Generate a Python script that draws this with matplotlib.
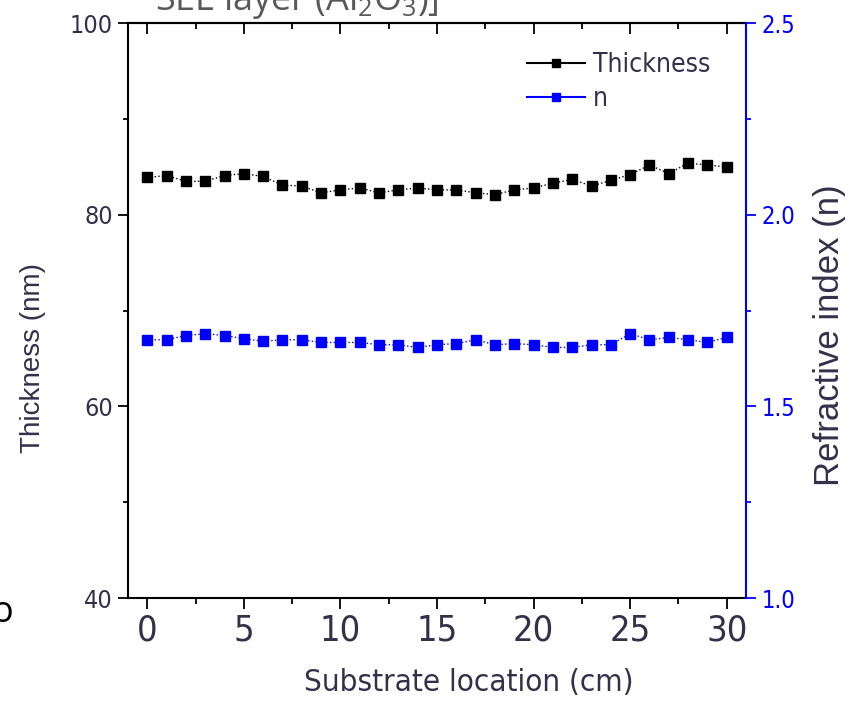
import numpy as np
import matplotlib
matplotlib.use("Agg")
import matplotlib.pyplot as plt
import matplotlib.ticker as ticker
from matplotlib.lines import Line2D
from matplotlib import font_manager

# ─────────────────────────────────────────────
#  Datos
# ─────────────────────────────────────────────
location = list(range(0, 31))
thickness = [83.9, 84.1, 83.5, 83.5, 84.1, 84.3, 84.0, 83.1, 83.0, 82.3,
             82.6, 82.8, 82.3, 82.6, 82.8, 82.6, 82.6, 82.3, 82.1, 82.6,
             82.8, 83.3, 83.7, 83.0, 83.6, 84.2, 85.2, 84.3, 85.4, 85.2,
             85.0]
n_index = [1.674, 1.674, 1.685, 1.690, 1.685, 1.677, 1.670, 1.674, 1.674, 1.667,
           1.667, 1.667, 1.661, 1.661, 1.654, 1.661, 1.664, 1.674, 1.661, 1.664,
           1.661, 1.654, 1.654, 1.661, 1.661, 1.690, 1.674, 1.680, 1.674, 1.667,
           1.680]

x_ticks = [0, 5, 10, 15, 20, 25, 30]
y_ticks = [40, 60, 80, 100]
n_ticks = [1.0, 1.5, 2.0, 2.5]

# fuente estrecha: la que haya instalada
fonts = font_manager.fontManager.ttflist
names = {f.name for f in fonts}
if "Liberation Sans Narrow" in names:
    NARROW = dict(family="Liberation Sans Narrow")
elif any(f.name == "DejaVu Sans" and f.stretch == "condensed" for f in fonts):
    NARROW = dict(family="DejaVu Sans", stretch="condensed")
else:
    NARROW = dict(family="Liberation Sans")
REG = "Liberation Sans" if "Liberation Sans" in names else "DejaVu Sans"

TXT = "#35304a"
BLUE = "#0000ff"

plt.rcParams.update({
    "font.family": REG,
    "mathtext.fontset": "custom",
    "mathtext.rm": "Open Sans",
})

fig = plt.figure(figsize=(8.53, 7.02), dpi=100)
ax = fig.add_axes([0.150, 0.148, 0.7246, 0.819])
ax2 = ax.twinx()

ax.plot(location, thickness, color="black", lw=1.0, ls=":",
        marker="s", ms=7.5, zorder=3)
ax2.plot(location, n_index, color=BLUE, lw=1.0, ls=":",
         marker="s", ms=7.5, mec=BLUE, mfc=BLUE, zorder=3)

ax.set_xlim(-1, 31)
ax.set_ylim(40, 100)
ax2.set_ylim(1.0, 2.5)

ax.set_xticks(x_ticks)
ax.xaxis.set_minor_locator(ticker.MultipleLocator(2.5))
ax.set_yticks(y_ticks)
ax.yaxis.set_minor_locator(ticker.MultipleLocator(10))
ax2.set_yticks(n_ticks)
ax2.yaxis.set_minor_locator(ticker.MultipleLocator(0.25))
ax2.yaxis.set_major_formatter(ticker.FormatStrFormatter("%.1f"))

for s in ["left", "bottom", "top"]:
    ax.spines[s].set_linewidth(1.5)
ax.spines["right"].set_visible(False)
for s in ["left", "bottom", "top"]:
    ax2.spines[s].set_visible(False)
ax2.spines["right"].set_color(BLUE)
ax2.spines["right"].set_linewidth(1.5)

ax.tick_params(axis="x", which="major", direction="out", length=8, width=1.3,
               pad=3, labelsize=26, labelcolor=TXT)
ax.tick_params(axis="x", which="minor", direction="out", length=4, width=1.3)
ax.tick_params(axis="y", which="major", direction="out", length=7, width=1.3,
               pad=4, labelsize=18, labelcolor=TXT)
ax.tick_params(axis="y", which="minor", direction="out", length=3.5, width=1.3)

ax2.tick_params(axis="y", which="major", direction="out", length=7, width=1.3,
                pad=4, labelsize=17, colors=BLUE)
ax2.tick_params(axis="y", which="minor", direction="out", length=3.5, width=1.3,
                colors=BLUE)

for lab in ax.get_xticklabels() + ax.get_yticklabels() + ax2.get_yticklabels():
    lab.set_family(NARROW["family"])
    if "stretch" in NARROW:
        lab.set_stretch(NARROW["stretch"])

# ticks hacia dentro en el eje superior
top = ax.secondary_xaxis("top")
top.set_xticks(x_ticks)
top.xaxis.set_minor_locator(ticker.MultipleLocator(2.5))
top.tick_params(axis="x", which="major", direction="in", length=8, width=1.3,
                labeltop=False)
top.tick_params(axis="x", which="minor", direction="in", length=4, width=1.3)
top.spines["top"].set_linewidth(1.5)

ax.set_xlabel("Substrate location (cm)", fontsize=22.5, color=TXT, **NARROW)
ax.xaxis.set_label_coords(0.552, -0.122)
ax.set_ylabel("Thickness (nm)", family=REG, fontsize=20, color=TXT)
ax.yaxis.set_label_coords(-0.132, 0.417)
ax2.set_ylabel("Refractive index (n)", family=REG, fontsize=25, color=TXT)
ax2.yaxis.set_label_coords(1.108, 0.457)

handles = [
    Line2D([], [], color="black", lw=1.5, marker="s", ms=6),
    Line2D([], [], color=BLUE, lw=1.5, marker="s", ms=6, mec=BLUE, mfc=BLUE),
]
leg_prop = font_manager.FontProperties(size=19, **NARROW)
leg = ax.legend(handles, ["Thickness", "n"], loc="upper right",
                bbox_to_anchor=(0.972, 0.982), frameon=False,
                prop=leg_prop, handlelength=2.2,
                handletextpad=0.3, labelspacing=0.3, borderaxespad=0.3)
for t in leg.get_texts():
    t.set_color(TXT)

# texto recortado del documento original
fig.text(155 / 853, 1 - 10 / 702, "SEL layer (Al$_2$O$_3$)]", ha="left",
         va="baseline", family="Open Sans", fontsize=26, color="#595959")
fig.text(-8 / 853, 1 - 622 / 702, "o", ha="left", va="baseline",
         family="Open Sans", fontsize=26, color="black")

fig.savefig("out.png", dpi=100)
